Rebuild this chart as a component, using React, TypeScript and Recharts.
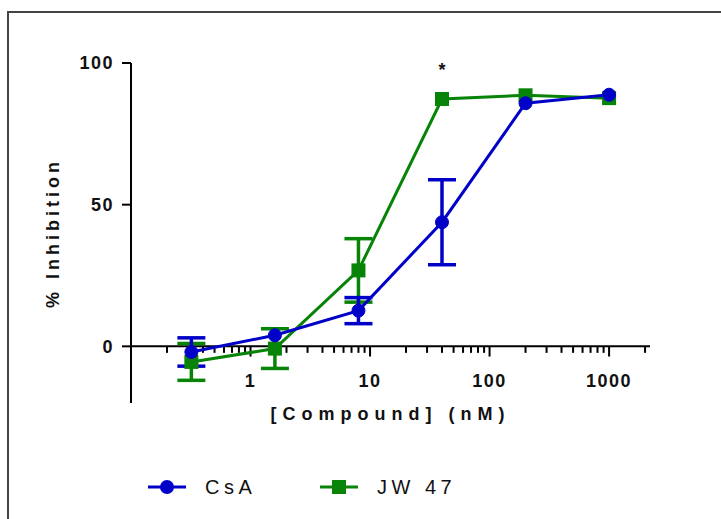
import { LineChart, Line, XAxis, YAxis, ErrorBar, ReferenceLine, ReferenceDot } from 'recharts';

const BLUE = '#0000c8';
const GREEN = '#078307';
const FONT = 'Arial, "Liberation Sans", Helvetica, sans-serif';

// concentrations in nM (5-fold dilutions); null error = bar hidden by the symbol
const concentrations = [0.32, 1.6, 8, 40, 200, 1000];
const csaMean = [-2, 3.9, 12.6, 43.8, 85.8, 88.8];
const csaErr = [5, null, 4.6, 15, null, null];
const jw47Mean = [-5.5, -0.8, 26.8, 87.3, 88.6, 87.6];
const jw47Err = [6.5, 7, 11.2, null, null, null];

const xTicks = [1, 10, 100, 1000];
const yTicks = [0, 50, 100];
const minorTicks = [0.1, 1, 10, 100, 1000]
  .flatMap((d) => [2, 3, 4, 5, 6, 7, 8, 9].map((m) => Number((d * m).toPrecision(2))))
  .filter((v) => v <= 2000);

const data = concentrations.map((c, i) => ({
  conc: c,
  csa: csaMean[i],
  csaErr: csaErr[i],
  jw47: jw47Mean[i],
  jw47Err: jw47Err[i],
}));

const legendItems = [
  { name: 'CsA', color: BLUE, shape: 'circle' },
  { name: 'JW 47', color: GREEN, shape: 'square' },
];

function SquareDot(props: any) {
  const { cx, cy } = props;
  if (cx == null || cy == null) return null;
  return <rect x={cx - 7} y={cy - 7} width={14} height={14} fill={GREEN} />;
}

function XTick({ x, y, payload }: any) {
  return (
    <text
      x={x}
      y={y}
      dy={-16}
      textAnchor="middle"
      fill="#111"
      style={{ fontFamily: FONT, fontSize: 18, fontWeight: 700, letterSpacing: 1.5 }}
    >
      {payload.value}
    </text>
  );
}

export default function App() {
  return (
    <div
      style={{
        position: 'absolute',
        left: 0,
        top: 0,
        width: 721,
        height: 519,
        overflow: 'hidden',
        background: '#fff',
      }}
    >
      <div
        style={{
          position: 'absolute',
          left: 7,
          top: 11,
          width: 800,
          height: 600,
          borderTop: '2px solid #444',
          borderLeft: '2px solid #444',
        }}
      />
      <LineChart
        width={721}
        height={519}
        data={data}
        margin={{ top: 63, right: 71, bottom: 86, left: 40 }}
        style={{ position: 'absolute', left: 0, top: 0 }}
      >
        <XAxis
          dataKey="conc"
          type="number"
          scale="log"
          domain={[0.1, 2200]}
          allowDataOverflow
          ticks={xTicks}
          axisLine={false}
          tickLine={false}
          tickSize={0}
          tickMargin={0}
          height={30}
          tick={<XTick />}
          label={{
            value: '[Compound] (nM)',
            position: 'insideTop',
            offset: 4,
            fill: '#111',
            style: { fontFamily: FONT, fontSize: 18, fontWeight: 700, letterSpacing: 6 },
          }}
        />
        <YAxis
          type="number"
          domain={[-20, 100]}
          ticks={yTicks}
          width={91}
          axisLine={{ stroke: '#000', strokeWidth: 2 }}
          tickLine={{ stroke: '#000', strokeWidth: 2 }}
          tickSize={9}
          tickMargin={8}
          tick={{ fill: '#111', fontFamily: FONT, fontSize: 18, fontWeight: 700, letterSpacing: 1.5 }}
          label={{
            value: '% Inhibition',
            angle: -90,
            position: 'insideLeft',
            offset: 13,
            fill: '#111',
            style: { textAnchor: 'middle', fontFamily: FONT, fontSize: 18, fontWeight: 700, letterSpacing: 4 },
          }}
        />
        <ReferenceLine y={0} stroke="#000" strokeWidth={2} />
        {xTicks.map((v) => (
          <ReferenceLine
            key={'M' + v}
            segment={[{ x: v, y: 0 }, { x: v, y: -3.6 }]}
            stroke="#000"
            strokeWidth={2}
          />
        ))}
        {minorTicks.map((v) => (
          <ReferenceLine
            key={'m' + v}
            segment={[{ x: v, y: 0 }, { x: v, y: -2.3 }]}
            stroke="#000"
            strokeWidth={2}
          />
        ))}
        <Line
          dataKey="jw47"
          stroke={GREEN}
          strokeWidth={3}
          dot={<SquareDot />}
          activeDot={false}
          isAnimationActive={false}
        >
          <ErrorBar dataKey="jw47Err" direction="y" width={14} strokeWidth={3.5} stroke={GREEN} />
        </Line>
        <Line
          dataKey="csa"
          stroke={BLUE}
          strokeWidth={3}
          dot={{ r: 6.5, fill: BLUE, stroke: BLUE, strokeWidth: 1 }}
          activeDot={false}
          isAnimationActive={false}
        >
          <ErrorBar dataKey="csaErr" direction="y" width={14} strokeWidth={3.5} stroke={BLUE} />
        </Line>
        <ReferenceDot
          x={concentrations[3]}
          y={jw47Mean[3]}
          r={0}
          fill="none"
          stroke="none"
          label={{
            value: '*',
            position: 'top',
            offset: 23,
            fill: '#111',
            style: { fontFamily: FONT, fontSize: 18, fontWeight: 700 },
          }}
        />
      </LineChart>
      <div
        style={{
          position: 'absolute',
          left: 148,
          top: 474,
          display: 'flex',
          fontFamily: FONT,
          fontSize: 20,
          color: '#111',
        }}
      >
        {legendItems.map((it) => (
          <div key={it.name} style={{ display: 'flex', alignItems: 'center', width: 172, height: 26 }}>
            <svg width={38} height={20} style={{ marginRight: 19 }}>
              <line x1={0} y1={10} x2={38} y2={10} stroke={it.color} strokeWidth={3} />
              {it.shape === 'circle' ? (
                <circle cx={19} cy={10} r={7} fill={it.color} />
              ) : (
                <rect x={12} y={3} width={14} height={14} fill={it.color} />
              )}
            </svg>
            <span style={{ letterSpacing: 4.5 }}>{it.name}</span>
          </div>
        ))}
      </div>
    </div>
  );
}
